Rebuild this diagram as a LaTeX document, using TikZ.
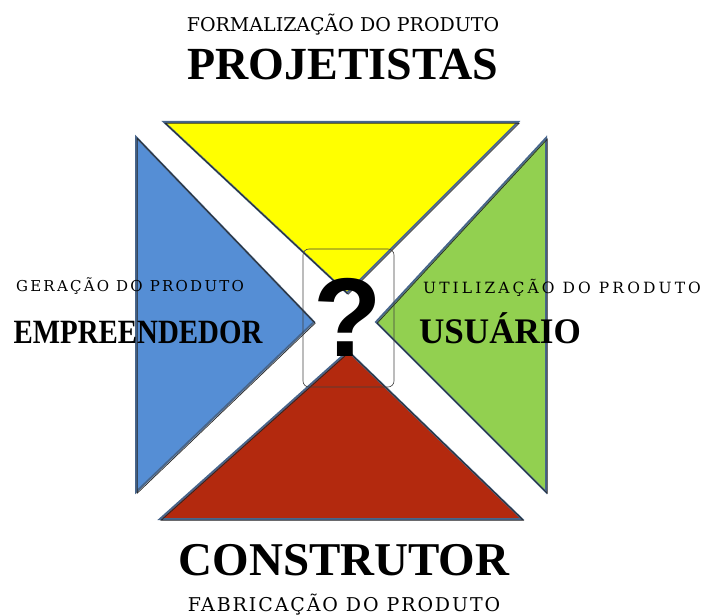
\documentclass[tikz,border=0pt]{standalone}
\usepackage{fontspec}
\usepackage{graphicx}
\setmainfont{Liberation Serif}
\newfontfamily\qmark{Liberation Sans}
\newfontfamily\rotulo{DejaVu Serif}

\definecolor{amarelo}{RGB}{255,255,0}
\definecolor{azul}{RGB}{85,142,213}
\definecolor{verde}{RGB}{146,208,80}
\definecolor{vermelho}{RGB}{179,41,14}
\definecolor{borda}{RGB}{72,102,140}

\begin{document}
\begin{tikzpicture}[x=1pt,y=-1pt,
  tri/.style={draw=borda,line width=2pt,line join=miter},
  contorno/.style={draw=black!85,line width=0.7pt,shift={(1.2,1.2)}},
  papel/.style={font=\fontsize{46}{46}\selectfont\bfseries,inner sep=0pt,anchor=base},
  acao/.style={inner sep=0pt,anchor=base}]

\useasboundingbox (0,0) rectangle (707,615);

% triangulos
\path[tri,fill=amarelo] (164,122) -- (518,122) -- (347,293) -- cycle;
\draw[contorno] (164,122) -- (518,122) -- (347,293) -- cycle;
\path[tri,fill=azul] (136,137) -- (136,492) -- (314,322) -- cycle;
\draw[contorno] (136,137) -- (136,492) -- (314,322) -- cycle;
\path[tri,fill=verde] (546,138) -- (546,492) -- (376,322) -- cycle;
\draw[contorno] (546,138) -- (546,492) -- (376,322) -- cycle;
\path[tri,fill=vermelho] (160,519) -- (522,519) -- (348,351) -- cycle;
\draw[contorno] (160,519) -- (522,519) -- (348,351) -- cycle;

\node[draw=black!75,rounded corners=6pt,minimum width=91pt,minimum height=138pt,line width=0.6pt] (caixa) at (348.5,318) {};
\node[font=\qmark\bfseries\fontsize{112}{112}\selectfont,inner sep=0pt] (duvida) at (348,317) {?};

\node[acao,font=\rotulo\fontsize{19}{19}\selectfont] (formalizacao) at (343,32) {FORMALIZAÇÃO DO PRODUTO};
\node[papel] (projetistas) at (343,80) {PROJETISTAS};

\node[acao,font=\rotulo\fontsize{15}{15}\selectfont\addfontfeature{LetterSpace=15}] (geracao) at (130,291) {GERAÇÃO\ DO\ PRODUTO};
\node[papel,font=\fontsize{34}{34}\selectfont\bfseries] (empreendedor) at (138,343) {\scalebox{0.85}[1]{EMPREENDEDOR}};

\node[acao,font=\rotulo\fontsize{15.5}{15.5}\selectfont\addfontfeature{LetterSpace=20}] (utilizacao) at (562,293) {UTILIZAÇÃO\ DO\ PRODUTO};
\node[papel,font=\fontsize{36}{36}\selectfont\bfseries] (usuario) at (500,343) {\scalebox{0.975}[1]{USUÁRIO}};

\node[papel,font=\fontsize{47}{47}\selectfont\bfseries] (construtor) at (344,575) {CONSTRUTOR};
\node[acao,font=\rotulo\fontsize{19}{19}\selectfont\addfontfeature{LetterSpace=10}] (fabricacao) at (344,611) {FABRICAÇÃO\ DO\ PRODUTO};
\end{tikzpicture}
\end{document}
